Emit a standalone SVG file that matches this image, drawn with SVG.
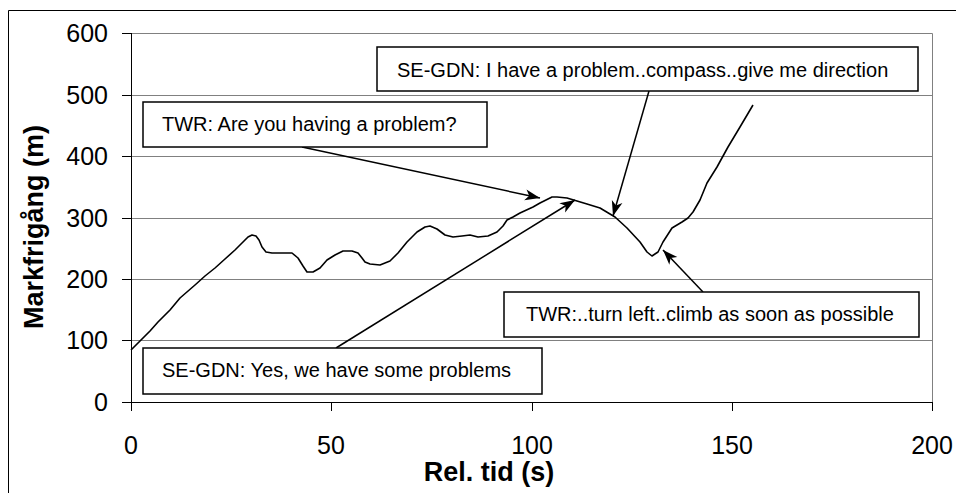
<svg xmlns="http://www.w3.org/2000/svg" width="956" height="493" viewBox="0 0 956 493">
<defs>
<marker id="ah" markerUnits="userSpaceOnUse" markerWidth="20" markerHeight="14" viewBox="-16 -7 18 14" refX="0" refY="0" orient="auto">
<path d="M0,0 L-15,-5.5 L-11,0 L-15,5.5 Z" fill="#000"/>
</marker>
</defs>
<style>
.grid{stroke:#808080;stroke-width:1;fill:none}
.axis{stroke:#000;stroke-width:1;fill:none}
.tick{font-family:"Liberation Sans",Arial,sans-serif;font-size:25px;fill:#000}
.title{font-family:"Liberation Sans",Arial,sans-serif;font-size:27px;font-weight:bold;fill:#000}
.box rect{fill:#fff;stroke:#000;stroke-width:1.5}
.box text{font-family:"Liberation Sans",Arial,sans-serif;font-size:20px;fill:#000}
.conn line{stroke:#000;stroke-width:1.5;marker-end:url(#ah)}
.curve{stroke:#000;stroke-width:1.6;fill:none;stroke-linejoin:round}
</style>
<rect width="956" height="493" fill="#fff"/>
<path d="M8.5,493 V10.5 H956" class="axis"/>
<g id="gridlines">
<path class="grid" d="M131,33.5 H932.5 V402.5 M131,95.5 H932 M131,156.5 H932 M131,218.5 H932 M131,279.5 H932 M131,340.5 H932"/>
</g>
<g id="axes">
<path class="axis" d="M131.5,33 V402.5 H932.5"/>
<path class="axis" d="M122,33.5 H131 M122,95.5 H131 M122,156.5 H131 M122,218.5 H131 M122,279.5 H131 M122,340.5 H131 M122,402.5 H131"/>
<path class="axis" d="M131.5,402 V411 M331.5,402 V411 M532.5,402 V411 M732.5,402 V411 M932.5,402 V411"/>
</g>
<g id="ylabels" class="tick" text-anchor="end">
<text x="108" y="42">600</text>
<text x="108" y="104">500</text>
<text x="108" y="165">400</text>
<text x="108" y="227">300</text>
<text x="108" y="288">200</text>
<text x="108" y="349">100</text>
<text x="108" y="411">0</text>
</g>
<g id="xlabels" class="tick" text-anchor="middle">
<text x="131" y="454">0</text>
<text x="331" y="454">50</text>
<text x="532" y="454">100</text>
<text x="732" y="454">150</text>
<text x="932" y="454">200</text>
</g>
<text class="title" x="489" y="481" text-anchor="middle">Rel. tid (s)</text>
<text class="title" transform="translate(43,227) rotate(-90)" text-anchor="middle">Markfrigång (m)</text>
<g id="series">
<path class="curve" d="M131,350 L140,341 L150,331 L158,322 L170,310 L180,298 L195,285 L205,276 L215,268 L225,259 L235,250 L243,242 L248,237 L252,235 L256,236 L259,240 L262,247 L266,252 L272,253 L292,253 L298,258 L303,266 L307,272 L313,272 L320,268 L327,260 L335,255 L343,251 L352,251 L358,253 L362,258 L365,262 L370,264 L380,265 L390,261 L398,253 L407,242 L417,232 L425,227 L430,226 L437,229 L445,235 L453,237 L462,236 L470,235 L478,237 L488,236 L497,232 L503,226 L507,220 L513,217 L520,213 L533,207 L540,203 L552,197 L557,197 L567,198 L577,201 L587,204 L600,208 L615,217 L627,228 L640,242 L647,252 L652,256 L658,252 L663,242 L672,228 L682,222 L688,218 L693,212 L700,200 L707,183 L717,167 L728,147 L740,127 L753,105"/>
</g>
<g id="connectors" class="conn">
<line x1="302" y1="147" x2="540" y2="198"/>
<line x1="649" y1="91" x2="613" y2="216"/>
<line x1="336" y1="348" x2="575" y2="200"/>
<line x1="703" y1="292" x2="663" y2="250"/>
</g>
<g id="n1" class="box">
<rect x="143" y="102" width="344" height="45"/>
<text x="162" y="131">TWR: Are you having a problem?</text>
</g>
<g id="n2" class="box">
<rect x="377" y="47" width="541" height="44"/>
<text x="397" y="77">SE-GDN: I have a problem..compass..give me direction</text>
</g>
<g id="n3" class="box">
<rect x="504" y="292" width="415" height="45"/>
<text x="526" y="321">TWR:..turn left..climb as soon as possible</text>
</g>
<g id="n4" class="box">
<rect x="143" y="348" width="399" height="46"/>
<text x="162" y="377">SE-GDN: Yes, we have some problems</text>
</g>
</svg>
